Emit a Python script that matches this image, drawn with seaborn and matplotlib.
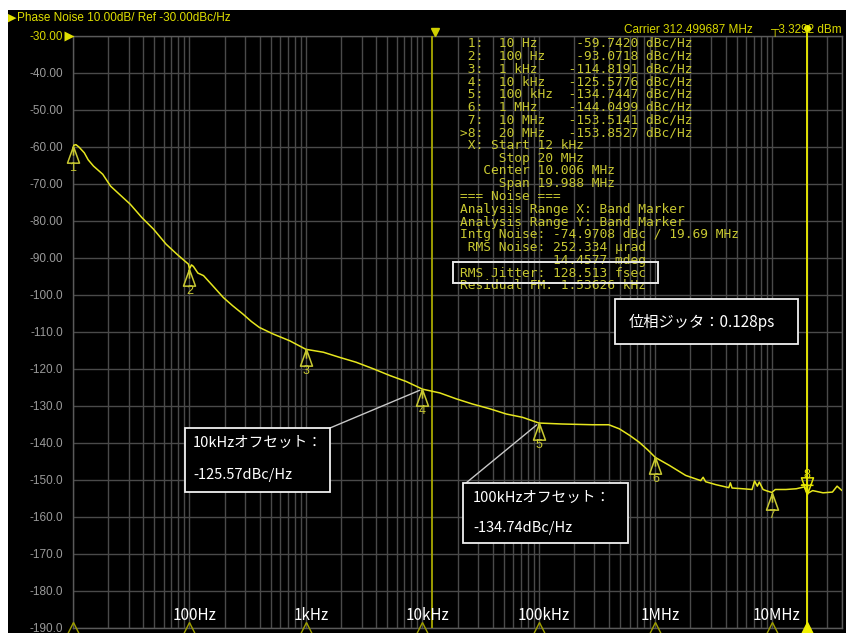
import math
import numpy as np
import pandas as pd
import matplotlib
matplotlib.use("Agg")
import matplotlib.pyplot as plt
import matplotlib.transforms as mtransforms
from matplotlib.patches import Rectangle
from matplotlib.path import Path
from matplotlib.ticker import LogLocator, NullFormatter
import seaborn as sns

# ---------------------------------------------------------------- data
# measured SSB phase-noise trace (offset frequency in Hz, level in dBc/Hz)
offset_hz = [
    10, 10.6, 11.3, 12.5, 13.5, 15, 18, 21, 25, 31, 39, 49, 63, 78, 90, 98,
    100, 104, 108, 118, 132, 158, 195, 234, 288, 340, 398, 525, 724,
    1000, 1410, 1950, 2690, 3800, 5250, 7240,
    10000, 14100, 19500, 26900, 38000, 52500, 72400,
    100000, 158000, 288000, 398000, 490000, 603000, 724000, 860000,
    1000000, 1320000, 1820000, 2450000, 2570000, 2700000, 3310000,
    4270000, 4400000, 4550000, 5620000, 6760000, 7100000, 7500000,
    7800000, 8400000, 8900000, 10000000, 10700000, 13200000, 16200000,
    19000000, 20000000, 22400000, 27500000, 33100000, 36300000, 40000000,
]
level_dbc = [
    -59.74, -59.5, -60.2, -61.7, -63.6, -65.3, -67.5, -70.7, -72.9, -75.6,
    -79.2, -82.3, -86.4, -89.1, -90.8, -91.8,
    -93.07, -92.0, -92.4, -94.2, -94.9, -97.6, -100.8, -103.0, -105.3,
    -107.3, -108.9, -110.7, -112.5,
    -114.82, -115.6, -117.0, -118.3, -120.1, -121.9, -123.5,
    -125.58, -126.6, -128.2, -129.6, -130.9, -132.3, -133.2,
    -134.74, -135.0, -135.2, -135.2, -136.3, -138.1, -139.9, -142.0,
    -144.05, -146.2, -148.9, -150.3, -149.4, -150.6, -151.4,
    -152.2, -150.9, -152.3, -152.5, -152.7, -150.4, -151.8,
    -150.7, -152.7, -153.0, -153.51, -152.7, -152.7, -152.5,
    -152.0, -153.85, -153.0, -153.6, -153.4, -151.8, -153.0,
]

# marker table
marker_ids = [1, 2, 3, 4, 5, 6, 7, 8]
marker_freq_hz = [10, 100, 1e3, 1e4, 1e5, 1e6, 1e7, 2e7]
marker_freq_text = ["10 Hz", "100 Hz", "1 kHz", "10 kHz", "100 kHz",
                    "1 MHz", "10 MHz", "20 MHz"]
marker_dbc = [-59.7420, -93.0718, -114.8191, -125.5776, -134.7447,
              -144.0499, -153.5141, -153.8527]
active_marker = 8

# integration band
band_start_hz = 12e3
band_stop_hz = 20e6

# axis ticks
y_ticks = [-30, -40, -50, -60, -70, -80, -90, -100, -110, -120, -130,
           -140, -150, -160, -170, -180, -190]
y_tick_labels = ["-30.00", "-40.00", "-50.00", "-60.00", "-70.00", "-80.00",
                 "-90.00", "-100.0", "-110.0", "-120.0", "-130.0", "-140.0",
                 "-150.0", "-160.0", "-170.0", "-180.0", "-190.0"]
decade_hz = [100, 1e3, 1e4, 1e5, 1e6, 1e7]
decade_labels = ["100Hz", "1kHz", "10kHz", "100kHz", "1MHz", "10MHz"]
stim_hz = [10, 100, 1e3, 1e4, 1e5, 1e6, 1e7]

# ---------------------------------------------------------------- style
W, H, DPI = 846, 633, 100
YEL = "#e6e61e"
OLIVE = "#c8c832"
GRID = "#4a4a4a"
LABEL_GREY = "#9a9a9a"

sns.set_theme(style="dark", rc={"axes.facecolor": "black",
                                "figure.facecolor": "white",
                                "grid.color": GRID})
plt.rcParams["font.family"] = ["Liberation Sans", "DejaVu Sans"]
JP = ["Noto Sans CJK JP", "DejaVu Sans"]
MONO = ["DejaVu Sans Mono"]


def fx(x):
    return x / W


def fy(y):
    return 1 - y / H


fig = plt.figure(figsize=(W / DPI, H / DPI), dpi=DPI)
fig.patches.append(Rectangle((fx(8), 0), 1 - fx(8), fy(10), transform=fig.transFigure,
                             facecolor="black", edgecolor="none", zorder=-10))

ax = fig.add_axes([fx(73), fy(627.5), (842 - 73) / W, 592 / H])
ax.set_facecolor("black")
ax.set_xscale("log")

trace = pd.DataFrame({"offset": offset_hz, "level": level_dbc})
sns.lineplot(data=trace, x="offset", y="level", ax=ax, color=YEL,
             linewidth=1.1, estimator=None, sort=False, zorder=5)

ax.set_xlim(10, 4e7)
ax.set_ylim(-190, -30)
ax.set_xlabel("")
ax.set_ylabel("")
ax.xaxis.set_major_locator(LogLocator(base=10, numticks=20))
ax.xaxis.set_minor_locator(LogLocator(base=10, subs=np.arange(2, 10), numticks=200))
ax.xaxis.set_major_formatter(NullFormatter())
ax.xaxis.set_minor_formatter(NullFormatter())
ax.set_yticks(y_ticks)
ax.set_yticklabels(y_tick_labels)
ax.tick_params(axis="both", which="both", length=0, pad=7)
ax.tick_params(axis="y", labelsize=8.5, labelcolor=LABEL_GREY)
for lab in ax.get_yticklabels():
    if lab.get_text() == "-30.00":
        lab.set_color("#d8d800")
ax.grid(True, which="both", axis="x", color=GRID, linewidth=1)
ax.grid(True, which="major", axis="y", color=GRID, linewidth=1)
for s in ax.spines.values():
    s.set_color("#5a5a5a")
    s.set_linewidth(1)

# reference-level pointer
ref_tr = mtransforms.offset_copy(ax.transData, fig=fig, x=-4, y=0, units="dots")
ax.plot([10], [-30], marker=">", ms=7, color="#e0e000", mec="none",
        transform=ref_tr, clip_on=False, zorder=6)

# integration band lines
ax.axvline(band_start_hz, color="#a8a800", lw=1.3, zorder=4)
ax.axvline(band_stop_hz, ymax=1.0135, color="#f0f000", lw=1.3, zorder=4, clip_on=False)
flag_tr = mtransforms.offset_copy(ax.get_xaxis_transform(), fig=fig, x=3, y=4, units="dots")
ax.plot([band_start_hz], [1.0], marker="v", ms=6, color="#d0d000",
        transform=flag_tr, clip_on=False, zorder=6)
top_tr = mtransforms.offset_copy(ax.get_xaxis_transform(), fig=fig, x=0, y=0, units="dots")
ax.plot([band_stop_hz], [1.0135], marker="o", ms=4, color="#f0f000",
        transform=top_tr, clip_on=False, zorder=6)

# marker symbols
up_path = Path([(0, 0), (-0.36, -1), (0.36, -1), (0, 0), (0, -0.55)])
down_path = Path([(0, 0), (-0.36, 1), (0.36, 1), (0, 0), (0, 0.55), (-0.36, 0.55), (0.36, 0.55)])
for mid, mf, mv in zip(marker_ids, marker_freq_hz, marker_dbc):
    if mid == active_marker:
        ax.plot([mf], [mv], linestyle="none", marker=down_path, ms=24, mfc="none",
                mec="#e6e600", mew=1.1, clip_on=False, zorder=7)
        ax.annotate(str(mid), (mf, mv), xytext=(0, 19), textcoords="offset pixels",
                    ha="center", va="center", fontsize=9, color="#e6e600", zorder=7)
    else:
        ax.plot([mf], [mv], linestyle="none", marker=up_path, ms=24, mfc="none",
                mec=OLIVE, mew=1.1, clip_on=False, zorder=7)
        ax.annotate(str(mid), (mf, mv), xytext=(0, -22), textcoords="offset pixels",
                    ha="center", va="center", fontsize=9, color=OLIVE, zorder=7)

# stimulus markers on the bottom edge
ax.plot(stim_hz, [-190] * len(stim_hz), linestyle="none", marker="^", ms=9,
        mfc="none", mec="#a0a000", mew=1, clip_on=False, zorder=6)
ax.plot([band_stop_hz], [-190], linestyle="none", marker="^", ms=9,
        color="#f0f000", clip_on=False, zorder=6)

# decade captions inside the plot
for f, lab in zip(decade_hz, decade_labels):
    ax.annotate(lab, (f, 0), xycoords=("data", "axes fraction"),
                xytext=(5, 12), textcoords="offset pixels", ha="center", va="center",
                fontsize=11, color="white", family=JP, zorder=8)

# ---------------------------------------------------------------- header
fig.text(fx(8), fy(18), "\u25B6", fontsize=8, color="#e0e000", family=["DejaVu Sans"],
         ha="left", va="center")
fig.text(fx(17), fy(18), "Phase Noise 10.00dB/ Ref -30.00dBc/Hz", fontsize=8.5,
         color="#e0e000", ha="left", va="center")
fig.text(fx(624), fy(30), "Carrier 312.499687 MHz", fontsize=8.5, color="#d8d800",
         ha="left", va="center")
fig.text(fx(842), fy(30), "\u252C3.3292 dBm", fontsize=8.5, color="#d8d800",
         ha="right", va="center", family=["Liberation Sans", "DejaVu Sans"])

# ---------------------------------------------------------------- marker / noise table
rows = []
for mid, ft, mv in zip(marker_ids, marker_freq_text, marker_dbc):
    lead = ">" if mid == active_marker else " "
    rows.append(f"{lead}{mid}:  {ft:<9}{mv:>9.4f} dBc/Hz")
rows += [
    " X: Start 12 kHz",
    "     Stop 20 MHz",
    "   Center 10.006 MHz",
    "     Span 19.988 MHz",
    "=== Noise ===",
    "Analysis Range X: Band Marker",
    "Analysis Range Y: Band Marker",
    "Intg Noise: -74.9708 dBc / 19.69 MHz",
    " RMS Noise: 252.334 \u00b5rad",
    "            14.4577 mdeg",
    "RMS Jitter: 128.513 fsec",
    "Residual FM: 1.53626 kHz",
]
for i, row in enumerate(rows):
    fig.text(fx(460), fy(43.3 + i * 12.77), row, fontsize=9.3, family=MONO,
             color=OLIVE, ha="left", va="center", zorder=9)

fig.patches.append(Rectangle((fx(453), fy(283)), (658 - 453) / W, (283 - 262) / H,
                             transform=fig.transFigure, facecolor="none",
                             edgecolor="#e8e8e8", lw=1.4, zorder=10))

# ---------------------------------------------------------------- call-out boxes


def callout_box(x0, y0, x1, y1):
    fig.patches.append(Rectangle((fx(x0), fy(y1)), (x1 - x0) / W, (y1 - y0) / H,
                                 transform=fig.transFigure, facecolor="black",
                                 edgecolor="#f0f0f0", lw=1.3, zorder=10))


def trunc2(v):
    return math.trunc(v * 100) / 100


m4 = marker_ids.index(4)
m5 = marker_ids.index(5)

callout_box(185, 428, 330, 492)
fig.text(fx(193), fy(443), f"{marker_freq_text[m4].replace(' ', '')}オフセット：",
         fontsize=10.5, family=JP, color="white", ha="left", va="center", zorder=11)
fig.text(fx(193), fy(475), f"{trunc2(marker_dbc[m4]):.2f}dBc/Hz",
         fontsize=10.5, family=JP, color="white", ha="left", va="center", zorder=11)
ax.annotate("", xy=(marker_freq_hz[m4], marker_dbc[m4]), xycoords="data",
            xytext=(330, H - 428), textcoords="figure pixels",
            arrowprops=dict(arrowstyle="-", color="#c8c8c8", lw=1, shrinkA=0, shrinkB=2))

callout_box(463, 483, 628, 543)
fig.text(fx(473), fy(498), f"{marker_freq_text[m5].replace(' ', '')}オフセット：",
         fontsize=10.5, family=JP, color="white", ha="left", va="center", zorder=11)
fig.text(fx(473), fy(528), f"{trunc2(marker_dbc[m5]):.2f}dBc/Hz",
         fontsize=10.5, family=JP, color="white", ha="left", va="center", zorder=11)
ax.annotate("", xy=(marker_freq_hz[m5], marker_dbc[m5]), xycoords="data",
            xytext=(466, H - 483), textcoords="figure pixels",
            arrowprops=dict(arrowstyle="-", color="#c8c8c8", lw=1, shrinkA=0, shrinkB=2))

callout_box(615, 299, 798, 344)
fig.text(fx(629), fy(322), "位相ジッタ：0.128ps", fontsize=11, family=JP,
         color="white", ha="left", va="center", zorder=11)

fig.savefig("out.png", dpi=DPI)
